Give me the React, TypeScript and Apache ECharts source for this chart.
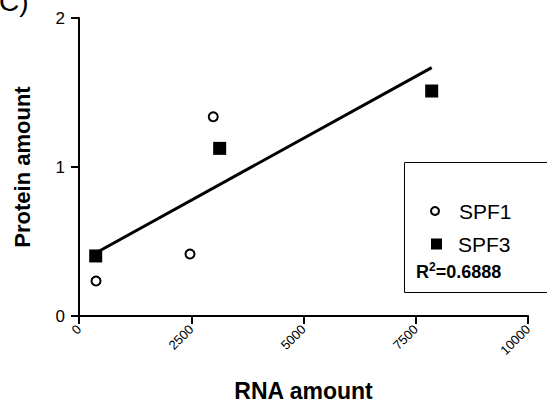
import React, { useEffect, useRef } from "react";
import * as echarts from "echarts";

const spf1X = [379, 2472, 2990];
const spf1Y = [0.235, 0.416, 1.337];
const spf3X = [372, 3133, 7855];
const spf3Y = [0.403, 1.125, 1.51];
const xTicks = [0, 2500, 5000, 7500, 10000];
const yTicks = [0, 1, 2];
const r2Text = "0.6888";

const FONT = "Liberation Sans, Arial, sans-serif";

function regression(xs: number[], ys: number[]) {
  const n = xs.length;
  const mx = xs.reduce((a, b) => a + b, 0) / n;
  const my = ys.reduce((a, b) => a + b, 0) / n;
  let sxy = 0;
  let sxx = 0;
  for (let i = 0; i < n; i++) {
    sxy += (xs[i] - mx) * (ys[i] - my);
    sxx += (xs[i] - mx) * (xs[i] - mx);
  }
  const slope = sxy / sxx;
  return { slope, intercept: my - slope * mx };
}

export default function App() {
  const ref = useRef<HTMLDivElement>(null);
  useEffect(() => {
    if (!ref.current) return;
    const chart = echarts.init(ref.current, null, { renderer: "svg" });
    const allX = [...spf1X, ...spf3X];
    const allY = [...spf1Y, ...spf3Y];
    const { slope, intercept } = regression(allX, allY);
    const x0 = Math.min(...allX);
    const x1 = Math.max(...allX);
    const fitLine = [
      [x0, intercept + slope * x0],
      [x1, intercept + slope * x1],
    ];
    const axisLine = { show: true, lineStyle: { color: "#000", width: 2 } };
    const axisTick = { show: true, length: 8, lineStyle: { color: "#000", width: 2 } };
    const legendText = { fontSize: 21, color: "#000", fontFamily: FONT, lineHeight: 22 };
    chart.setOption({
      animation: false,
      backgroundColor: "#fff",
      grid: { left: 79, right: 19, top: 18, bottom: 93 },
      xAxis: {
        type: "value",
        min: xTicks[0],
        max: xTicks[xTicks.length - 1],
        interval: xTicks[1] - xTicks[0],
        splitLine: { show: false },
        axisLine,
        axisTick,
        axisLabel: {
          rotate: 45,
          fontSize: 13,
          color: "#000",
          fontFamily: FONT,
          margin: 11,
          formatter: (v: number) => String(v),
        },
        name: "RNA amount",
        nameLocation: "middle",
        nameGap: 63,
        nameTextStyle: { fontSize: 23, fontWeight: "bold", color: "#000", fontFamily: FONT },
      },
      yAxis: {
        type: "value",
        min: yTicks[0],
        max: yTicks[yTicks.length - 1],
        interval: yTicks[1] - yTicks[0],
        splitLine: { show: false },
        axisLine,
        axisTick,
        axisLabel: { fontSize: 17, color: "#000", fontFamily: FONT, margin: 14 },
        name: "Protein amount",
        nameLocation: "middle",
        nameGap: 46,
        nameTextStyle: { fontSize: 22, fontWeight: "bold", color: "#000", fontFamily: FONT },
      },
      legend: [
        {
          orient: "vertical",
          left: 425,
          top: 195,
          itemWidth: 8,
          itemHeight: 8,
          textStyle: { ...legendText, padding: [0, 0, 0, 15] },
          data: [
            { name: "SPF1", icon: "circle", itemStyle: { color: "#fff", borderColor: "#000", borderWidth: 2 } },
          ],
        },
        {
          orient: "vertical",
          left: 426,
          top: 228,
          itemWidth: 11,
          itemHeight: 11,
          textStyle: { ...legendText, padding: [0, 0, 0, 11] },
          data: [{ name: "SPF3", icon: "rect", itemStyle: { color: "#000", borderWidth: 0 } }],
        },
      ],
      graphic: [
        {
          type: "rect",
          shape: { x: 404.5, y: 162.5, width: 160, height: 130 },
          style: { fill: "none", stroke: "#000", lineWidth: 1 },
          z: 1,
        },
        {
          type: "text",
          left: 416,
          top: 261,
          style: {
            text: "{r|R}{s|2}{r|=" + r2Text + "}",
            rich: {
              r: { fontSize: 18, fontWeight: "bold", fontFamily: FONT, fill: "#000", verticalAlign: "bottom", lineHeight: 20 },
              s: { fontSize: 12, fontWeight: "bold", fontFamily: FONT, fill: "#000", verticalAlign: "top", lineHeight: 20, padding: [0, 0, 8, 0] },
            },
          },
        },
        {
          type: "text",
          left: -1,
          top: -13,
          style: { text: "C)", fontSize: 28, fontFamily: FONT, fill: "#000" },
        },
      ],
      series: [
        {
          name: "Fit",
          type: "line",
          data: fitLine,
          symbol: "none",
          lineStyle: { color: "#000", width: 3 },
          z: 1,
        },
        {
          name: "SPF1",
          type: "scatter",
          data: spf1X.map((x, i) => [x, spf1Y[i]]),
          symbol: "circle",
          symbolSize: 9,
          itemStyle: { color: "#fff", borderColor: "#000", borderWidth: 2, opacity: 1 },
          z: 3,
        },
        {
          name: "SPF3",
          type: "scatter",
          data: spf3X.map((x, i) => [x, spf3Y[i]]),
          symbol: "rect",
          symbolSize: 13,
          itemStyle: { color: "#000", opacity: 1 },
          z: 3,
        },
      ],
    });
    return () => chart.dispose();
  }, []);
  return <div ref={ref} style={{ width: 547, height: 409, position: "absolute", left: 0, top: 0 }} />;
}
